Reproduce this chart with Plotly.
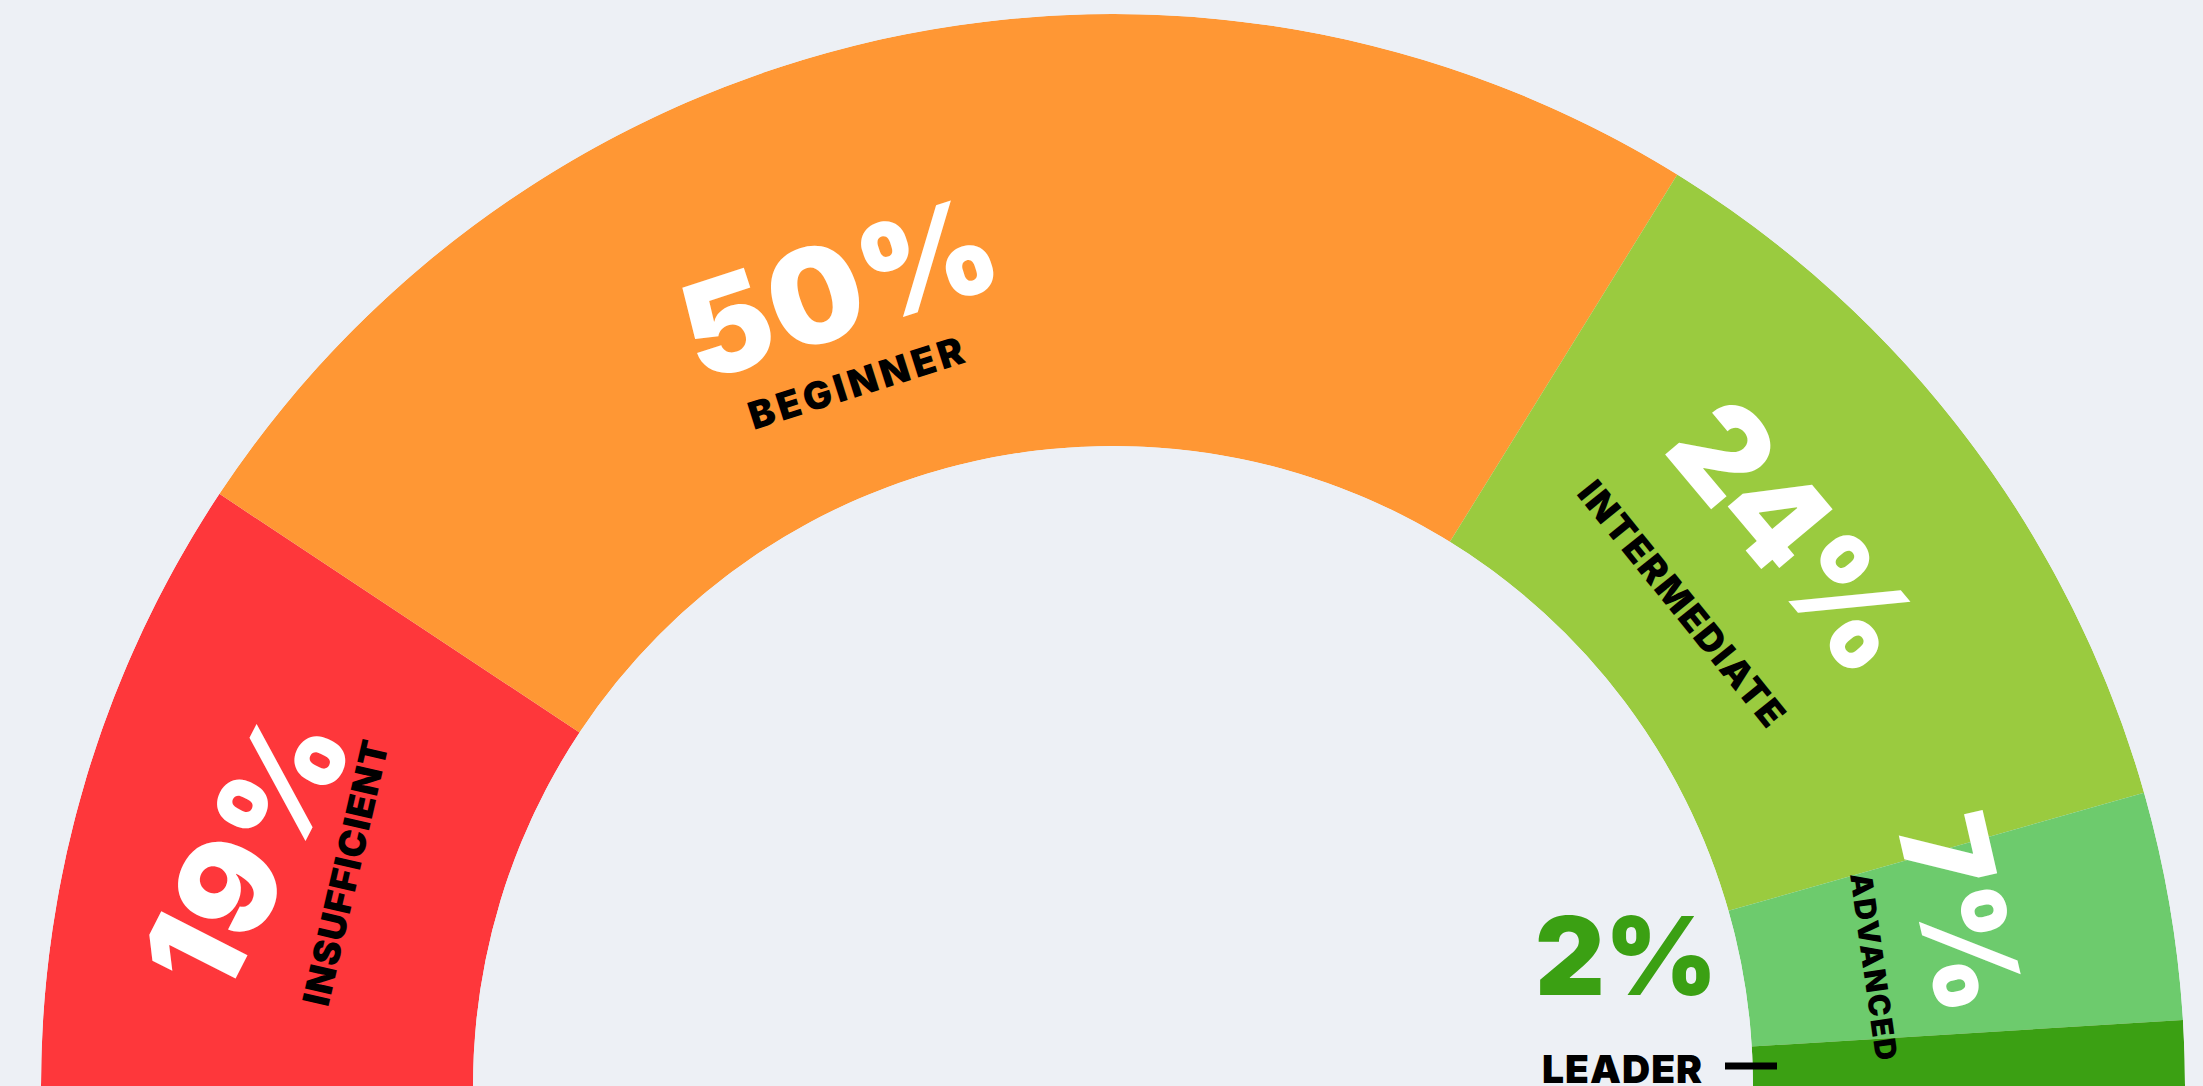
import plotly.graph_objects as go

# ---- data ----
levels = ["INSUFFICIENT", "BEGINNER", "INTERMEDIATE", "ADVANCED", "LEADER"]
shares = [19, 50, 24, 7, 2]
colors = ["#FE373B", "#FF9734", "#9ACB3F", "#6DCB6D", "#3BA013"]

BG = "#EDF0F5"
W, H = 2203, 1086
FONT = "Inter"
WT = 900

# half-donut geometry: theta spans 0..180 degrees
total = sum(shares)
widths = [180.0 * v / total for v in shares]
centers = []
acc = 0.0
for w in widths:
    centers.append(acc + w / 2)
    acc += w

fig = go.Figure()
fig.add_trace(go.Barpolar(
    r=[1] * len(shares),
    theta=centers,
    width=widths,
    base=0,
    marker=dict(color=colors, line=dict(width=0)),
    hoverinfo="skip",
    showlegend=False,
))

R = 1072
CX = 1113
fig.update_layout(
    width=W, height=H,
    margin=dict(l=0, r=0, t=0, b=0),
    paper_bgcolor=BG, plot_bgcolor=BG,
    showlegend=False,
    polar=dict(
        domain=dict(x=[(CX - R) / W, (CX + R) / W], y=[0, R / H]),
        sector=[0, 180],
        hole=0.597,
        bgcolor=BG,
        bargap=0,
        angularaxis=dict(visible=False, direction="clockwise", rotation=180,
                         showgrid=False, showline=False, ticks=""),
        radialaxis=dict(visible=False, range=[0, 1], showgrid=False,
                        showline=False, ticks=""),
    ),
)


def spaced(txt, sp):
    return f'<span style="letter-spacing:{sp}px">{txt}</span>'


def px(x, y):
    return x / W, 1 - y / H


# label placement in page pixels: (x, y, angle, size, spacing)
pct_pos = [(246, 850, -63, 133, 2), (840, 287, -18, 132, 2), (1795, 536, 50, 128, 0),
           (1962, 913, 77, 120, 1)]
name_pos = [(345, 872, -77, 37, 1), (858, 382, -17.7, 38, 4), (1683, 604, 51, 37, 2),
            (1874, 967, 82, 30, 2)]

annotations = []
for i in range(4):
    x, y, a, s, sp = pct_pos[i]
    xp, yp = px(x, y)
    annotations.append(dict(
        x=xp, y=yp, xref="paper", yref="paper", xanchor="center", yanchor="middle",
        text=spaced(f"{shares[i]}%", sp), textangle=a, showarrow=False,
        font=dict(family=FONT, size=s, color="white", weight=WT)))
    x, y, a, s, sp = name_pos[i]
    xp, yp = px(x, y)
    annotations.append(dict(
        x=xp, y=yp, xref="paper", yref="paper", xanchor="center", yanchor="middle",
        text=spaced(levels[i], sp), textangle=a, showarrow=False,
        font=dict(family=FONT, size=s, color="black", weight=WT)))

# leader label sits outside the ring
xp, yp = px(1626, 955)
annotations.append(dict(
    x=xp, y=yp, xref="paper", yref="paper", xanchor="center", yanchor="middle",
    text=f"{shares[4]}%", showarrow=False,
    font=dict(family=FONT, size=108, color=colors[4], weight=WT)))
xp, yp = px(1622, 1068)
annotations.append(dict(
    x=xp, y=yp, xref="paper", yref="paper", xanchor="center", yanchor="middle",
    text=spaced(levels[4], 1), showarrow=False,
    font=dict(family=FONT, size=39, color="black", weight=WT)))

fig.update_layout(annotations=annotations)

x0, y0 = px(1725, 1066)
x1, y1 = px(1777, 1066)
fig.add_shape(type="line", xref="paper", yref="paper", x0=x0, y0=y0, x1=x1, y1=y1,
              line=dict(color="black", width=7))

fig.write_html("out.html")
